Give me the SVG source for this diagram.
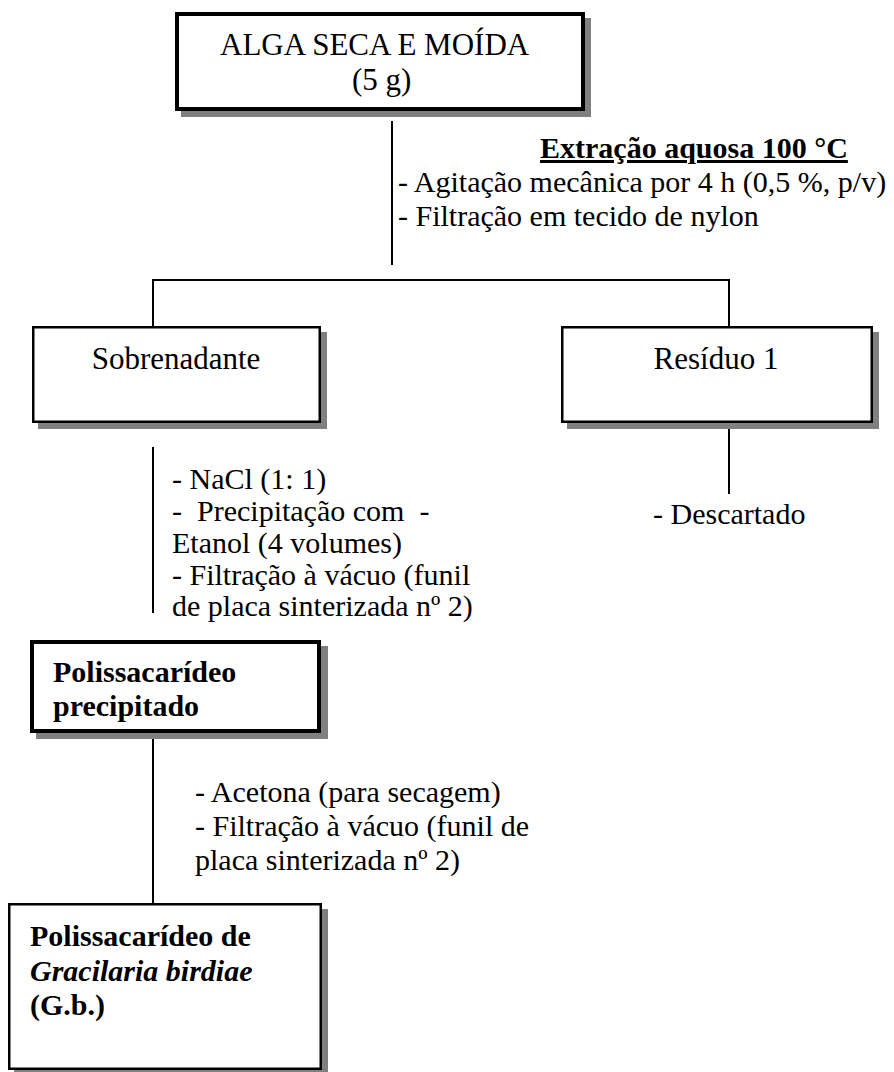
<svg xmlns="http://www.w3.org/2000/svg" width="894" height="1072" viewBox="0 0 894 1072">
<style>
text{font-family:"Liberation Serif","Times New Roman",serif;font-size:30px;fill:#000;white-space:pre}
.b{font-weight:bold}
.i{font-style:italic}
.lb{font-size:31px}
.sh{fill:#808080;stroke:none}
.thick{fill:#fff;stroke:#000;stroke-width:4}
.thin{fill:#fff;stroke:#000;stroke-width:2.5}
.ln{stroke:#000;stroke-width:2;fill:none}
</style>
<rect width="894" height="1072" fill="#fff"/>
<g id="connectors">
<line class="ln" x1="392" y1="121" x2="392" y2="265"/>
<polyline class="ln" points="153,326 153,280 729,280 729,326"/>
<line class="ln" x1="729" y1="423" x2="729" y2="494"/>
<line class="ln" x1="153" y1="447" x2="153" y2="613"/>
<line class="ln" x1="153" y1="733" x2="153" y2="903"/>
</g>
<g id="n1">
<rect class="sh" x="181" y="18" width="410" height="99"/>
<rect class="thick" x="177" y="14" width="406" height="95"/>
<text class="lb" x="220" y="55">ALGA SECA E MOÍDA</text>
<text class="lb" x="352" y="90">(5 g)</text>
</g>
<g id="step1">
<text class="b" x="540" y="158" text-decoration="underline">Extração aquosa 100 °C</text>
<text x="398" y="192">- Agitação mecânica por 4 h (0,5 %, p/v)</text>
<text x="398" y="226">- Filtração em tecido de nylon</text>
</g>
<g id="n2">
<rect class="sh" x="38" y="332" width="289" height="97"/>
<rect class="thin" x="33.25" y="327.25" width="286.5" height="94.5"/>
<text class="lb" x="176" y="369" text-anchor="middle">Sobrenadante</text>
</g>
<g id="n3">
<rect class="sh" x="567" y="332" width="312" height="97"/>
<rect class="thin" x="562.25" y="327.25" width="309.5" height="94.5"/>
<text class="lb" x="716" y="369" text-anchor="middle">Resíduo 1</text>
</g>
<g id="step3">
<text x="653" y="524">- Descartado</text>
</g>
<g id="step2">
<text x="172" y="489">- NaCl (1: 1)</text>
<text x="172" y="521">-  Precipitação com  -</text>
<text x="172" y="553">Etanol (4 volumes)</text>
<text x="172" y="585">- Filtração à vácuo (funil</text>
<text x="172" y="616">de placa sinterizada nº 2)</text>
</g>
<g id="n4">
<rect class="sh" x="36" y="646" width="292" height="93"/>
<rect class="thick" x="32" y="642" width="287" height="89"/>
<text class="b" x="53" y="682">Polissacarídeo</text>
<text class="b" x="53" y="716">precipitado</text>
</g>
<g id="step4">
<text x="195" y="802">- Acetona (para secagem)</text>
<text x="195" y="836">- Filtração à vácuo (funil de</text>
<text x="195" y="870">placa sinterizada nº 2)</text>
</g>
<g id="n5">
<rect class="sh" x="14" y="909" width="314" height="163"/>
<rect class="thin" x="9.25" y="904.25" width="311.5" height="164.5"/>
<text class="b" x="30" y="946">Polissacarídeo de</text>
<text class="b i" x="30" y="981">Gracilaria birdiae</text>
<text class="b" x="30" y="1015">(G.b.)</text>
</g>
</svg>
